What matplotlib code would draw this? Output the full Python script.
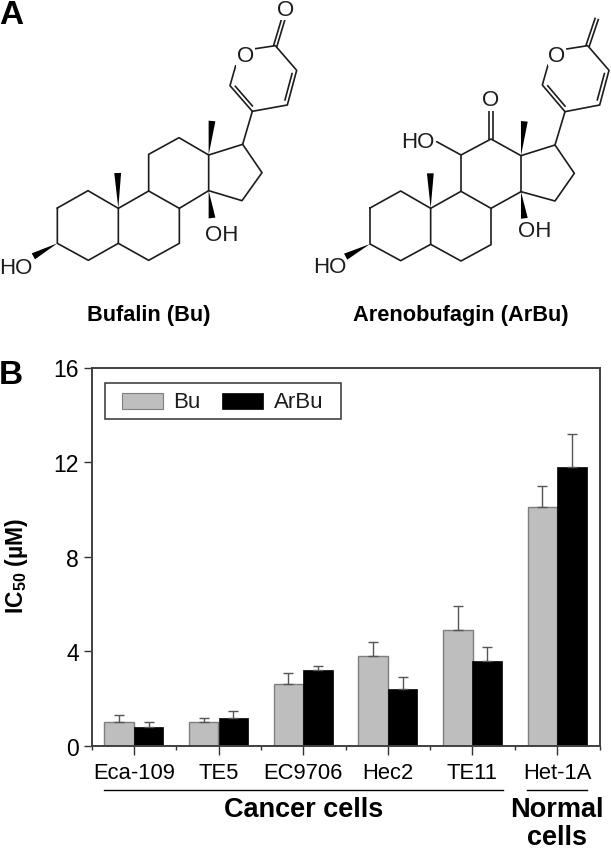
import matplotlib
matplotlib.use("Agg")
import matplotlib.pyplot as plt
import numpy as np
from matplotlib.patches import Polygon, Rectangle

plt.rcParams["font.family"] = ["Liberation Sans", "DejaVu Sans"]
plt.rcParams["mathtext.fontset"] = "custom"
plt.rcParams["mathtext.bf"] = "Liberation Sans:bold"
plt.rcParams["mathtext.rm"] = "Liberation Sans"

# Chart data
cells = ["Eca-109", "TE5", "EC9706", "Hec2", "TE11", "Het-1A"]
bu = [1.0, 1.0, 2.6, 3.8, 4.9, 10.1]
arbu = [0.8, 1.2, 3.2, 2.4, 3.6, 11.8]
bu_err = [0.3, 0.2, 0.5, 0.6, 1.0, 0.9]
arbu_err = [0.2, 0.3, 0.2, 0.5, 0.6, 1.4]
y_ticks = [0, 4, 8, 12, 16]

ring_a = [(172, 627), (264, 575), (355, 628), (355, 733), (265, 784), (172, 733), (172, 627)]
ring_b = [(355, 628), (446, 576), (538, 628), (538, 733), (446, 784), (355, 733)]
ring_c = [(446, 576), (446, 466), (537, 416), (626, 468), (626, 575), (538, 628)]
ring_d = [(626, 468), (728, 436), (786, 521), (726, 605), (626, 575)]
pyran = [(707, 200), (690, 260), (757, 337), (862, 318), (890, 214), (826, 140), (760, 150)]
bu_paths = [ring_a, ring_b, ring_c, ring_d, [(728, 436), (757, 337)], pyran]
bu_doubles = [((690, 260), (757, 337), 1), ((862, 318), (890, 214), 1), ((826, 140), (850, 60), 0)]
bu_wedges = [((355, 628), (353, 522)), ((626, 468), (636, 366)),
             ((626, 575), (636, 657)), ((172, 733), (100, 772))]
bu_labels = [("O", 858, 30), ("O", 736, 170), ("OH", 665, 705), ("HO", 48, 805)]

ring_a2 = [(195, 627), (287, 576), (377, 628), (377, 736), (287, 785), (195, 735), (195, 627)]
ring_b2 = [(377, 628), (468, 577), (558, 628), (558, 737), (468, 786), (377, 736)]
ring_c2 = [(468, 577), (468, 468), (558, 420), (648, 470), (648, 578), (558, 628)]
ring_d2 = [(648, 470), (750, 438), (808, 523), (750, 606), (648, 578)]
pyran2 = [(729, 198), (712, 258), (780, 338), (884, 318), (912, 214), (848, 140), (785, 150)]
ar_paths = [ring_a2, ring_b2, ring_c2, ring_d2, [(750, 438), (780, 338)], pyran2,
            [(468, 468), (395, 428)]]
ar_doubles = [((712, 258), (780, 338), 1), ((884, 318), (912, 214), 1),
              ((848, 140), (875, 60), 0), ((558, 420), (558, 335), 0)]
ar_wedges = [((377, 628), (376, 523)), ((648, 470), (658, 367)),
             ((648, 578), (658, 658)), ((195, 735), (122, 773))]
ar_labels = [("O", 557, 302), ("O", 756, 168), ("HO", 337, 428), ("OH", 688, 695), ("HO", 73, 803)]

W, H = 611, 853
INK = "#1c1c1c"


def draw_molecule(ov, x0, paths, doubles, wedges, labels):
    # crop coords are 3x, x0 is the crop's left edge in the figure
    def px(p):
        return x0 + p[0] / 3, p[1] / 3

    for path in paths:
        xy = np.array([px(p) for p in path])
        ov.plot(xy[:, 0], xy[:, 1], color=INK, lw=1.2, solid_capstyle="round", solid_joinstyle="round")
    for a, b, inner in doubles:
        a, b = np.array(px(a)), np.array(px(b))
        d = b - a
        n = np.array([-d[1], d[0]]) / np.hypot(*d)
        if inner:
            # second line towards the ring centre, a bit shorter
            s, e = a + d * 0.12 - n * 3.6, b - d * 0.12 - n * 3.6
            ov.plot([s[0], e[0]], [s[1], e[1]], color=INK, lw=1.2)
        else:
            for sign in (-1, 1):
                s, e = a + sign * n * 1.7, b + sign * n * 1.7
                ov.plot([s[0], e[0]], [s[1], e[1]], color=INK, lw=1.2)
    for a, b in wedges:
        a, b = np.array(px(a)), np.array(px(b))
        d = b - a
        n = np.array([-d[1], d[0]]) / np.hypot(*d)
        ov.add_patch(Polygon([a, b + n * 3.4, b - n * 3.4], closed=True, color="black", lw=0))
    for s, x, y in labels:
        ov.text(x0 + x / 3, y / 3, s, fontsize=16, color=INK, ha="center", va="center", zorder=5,
                bbox=dict(fc="white", ec="none", pad=0.4) if s == "O" else None)


fig = plt.figure(figsize=(W / 100, H / 100), dpi=100)

# Bar panel
L, R, T, B = 91.5, 599.5, 368.5, 747
ax = fig.add_axes([L / W, 1 - B / H, (R - L) / W, (B - T) / H])
x = np.arange(len(cells)) + 0.5
w = 0.35
err_style = dict(ecolor="#555555", elinewidth=1, capsize=3.6, capthick=1)
ax.bar(x - w / 2, bu, w, color="#bebebe", edgecolor="#7f7f7f", linewidth=1,
       yerr=[np.zeros(6), bu_err], error_kw=err_style, label="Bu")
ax.bar(x + w / 2, arbu, w, color="black", edgecolor="black", linewidth=0.5,
       yerr=[np.zeros(6), arbu_err], error_kw=err_style, label="ArBu")
ax.set_xlim(0, 6)
ax.set_ylim(0, 16)
ax.set_yticks(y_ticks)
ax.set_xticks(x)
ax.set_xticklabels(cells)
ax.set_xticks(np.arange(7), minor=True)
ax.tick_params(axis="y", length=6, width=1, color="#333333", labelsize=16.5, pad=3)
ax.tick_params(axis="x", which="major", length=6.5, width=1, color="#333333", labelsize=15.8, pad=5)
ax.tick_params(axis="x", which="minor", length=3, width=1, color="#333333")
for sp in ax.spines.values():
    sp.set_linewidth(1.4)
    sp.set_color("#404040")

# Overlay in pixel coordinates for the structures and the annotations
ov = fig.add_axes([0, 0, 1, 1], zorder=3)
ov.set_xlim(0, W)
ov.set_ylim(H, 0)
ov.axis("off")
ov.patch.set_alpha(0)

draw_molecule(ov, 0, bu_paths, bu_doubles, bu_wedges, bu_labels)
draw_molecule(ov, 305, ar_paths, ar_doubles, ar_wedges, ar_labels)

ov.text(-1, 15, "A", fontsize=24, fontweight="bold", va="center", ha="left")
ov.text(-1, 375, "B", fontsize=24, fontweight="bold", va="center", ha="left")
ov.text(149, 315, "Bufalin (Bu)", fontsize=15.7, fontweight="bold", ha="center", va="center")
ov.text(461, 315, "Arenobufagin (ArBu)", fontsize=15.7, fontweight="bold", ha="center", va="center")
ov.text(17, 566, "IC$_{\\mathbf{50}}$ (µM)", fontsize=16.5, fontweight="bold", rotation=90,
        ha="center", va="center")

# Legend box, drawn by hand to match its proportions
ov.add_patch(Rectangle((104.5, 383.5), 236.5, 36.5, fc="white", ec="#333333", lw=1.1))
ov.add_patch(Rectangle((121.5, 394), 41.5, 16, fc="#bebebe", ec="#7f7f7f", lw=0.8))
ov.add_patch(Rectangle((222, 394), 41, 16, fc="black", ec="black", lw=0.5))
ov.text(173, 402.5, "Bu", fontsize=16, va="center", ha="left", color=INK)
ov.text(274, 402.5, "ArBu", fontsize=16, va="center", ha="left", color=INK)

# Group brackets under the axis
ov.plot([104, 503], [790.5, 790.5], color="black", lw=1)
ov.plot([527, 587], [790.5, 790.5], color="black", lw=1)
ov.text(304, 810, "Cancer cells", fontsize=19.5, fontweight="bold", ha="center", va="center")
ov.text(557, 810, "Normal", fontsize=19.5, fontweight="bold", ha="center", va="center")
ov.text(557, 838, "cells", fontsize=19.5, fontweight="bold", ha="center", va="center")

fig.savefig("out.png", dpi=100)
